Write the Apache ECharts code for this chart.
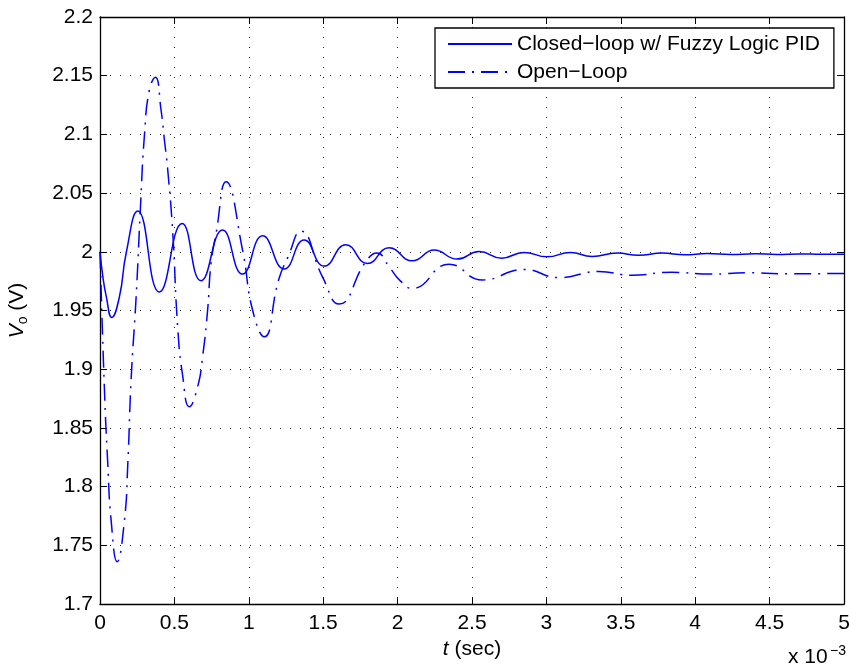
<!DOCTYPE html>
<html>
<head>
<meta charset="utf-8">
<script src="https://cdn.jsdelivr.net/npm/echarts@6/dist/echarts.min.js"></script>
<style>
html,body{margin:0;padding:0;background:#fff;}
#chart{width:849px;height:668px;}
</style>
</head>
<body>
<div id="chart"></div>
<script>
// time in units of 1e-3 s (axis shows "x 10^-3")
const tClosed = [0, 0.019, 0.042, 0.079, 0.131, 0.176, 0.254, 0.399, 0.552, 0.679, 0.824, 0.958, 1.093, 1.238, 1.372, 1.507, 1.652, 1.797, 1.943, 2.10, 2.245, 2.40, 2.547, 2.70, 2.849, 3.005, 3.162, 3.307, 3.475, 3.62, 3.777, 3.93, 4.08, 4.24, 4.40, 4.55, 4.70, 4.85, 5.0];
const vClosed = [2.000, 1.979, 1.962, 1.944, 1.962, 1.999, 2.0347, 1.9657, 2.0242, 1.9753, 2.0185, 1.981, 2.0136, 1.9853, 2.010, 1.9878, 2.006, 1.990, 2.0034, 1.9923, 2.0015, 1.9938, 2.0003, 1.9946, 1.9995, 1.9957, 1.9995, 1.996, 1.9989, 1.997, 1.9989, 1.9975, 1.9985, 1.9977, 1.9983, 1.9978, 1.9982, 1.9979, 1.998];

const tOpen = [0, 0.030, 0.052, 0.075, 0.115, 0.164, 0.187, 0.209, 0.243, 0.272, 0.299, 0.332, 0.3725, 0.41, 0.433, 0.455, 0.489, 0.522, 0.556, 0.60, 0.656, 0.69, 0.723, 0.746, 0.78, 0.847, 0.958, 1.026, 1.104, 1.20, 1.265, 1.35, 1.495, 1.607, 1.786, 1.86, 1.95, 2.02, 2.10, 2.346, 2.569, 2.849, 3.084, 3.352, 3.576, 3.84, 4.10, 4.35, 4.60, 5.0];
const vOpen = [2.000, 1.882, 1.820, 1.771, 1.736, 1.771, 1.820, 1.891, 1.962, 2.038, 2.100, 2.138, 2.1486, 2.121, 2.095, 2.070, 2.016, 1.936, 1.894, 1.868, 1.885, 1.911, 1.950, 1.990, 2.0157, 2.0596, 2.0015, 1.950, 1.9276, 1.976, 1.996, 2.0176, 1.9787, 1.9555, 1.9915, 1.999, 1.986, 1.975, 1.9688, 1.9895, 1.976, 1.985, 1.978, 1.9833, 1.980, 1.9825, 1.981, 1.9822, 1.9812, 1.9816];

const seriesNames = ['Closed\u2212loop w/ Fuzzy Logic PID', 'Open\u2212Loop'];
const xName = '{i|t} (sec)';
const yName = '{i|V}{s|o} (V)';
const xExponent = 'x 10';
const xExpSup = '\u22123';

const FONT = '"Liberation Sans", Arial, Helvetica, sans-serif';
const pairs = (t, v) => t.map((x, i) => [x, v[i]]);

const chart = echarts.init(document.getElementById('chart'), null, {renderer: 'canvas'});

const gridLine = {show: true, lineStyle: {color: '#000', width: 1, type: [1, 9], opacity: 0.85}};
const tick = {show: true, inside: true, length: 7, lineStyle: {color: '#000', width: 1}};
const axLine = {show: true, onZero: false, lineStyle: {color: '#000', width: 1.3}};

chart.setOption({
  animation: false,
  backgroundColor: '#fff',
  grid: {left: 100, right: 5, top: 17, bottom: 64, containLabel: false, outerBoundsMode: 'none'},
  xAxis: [{
    type: 'value', min: 0, max: 5, interval: 0.5, position: 'bottom',
    axisLine: axLine, axisTick: tick, splitLine: gridLine,
    axisLabel: {color: '#000', fontSize: 21, fontFamily: FONT, margin: 9},
    name: xName, nameLocation: 'middle', nameGap: 35,
    nameTextStyle: {color: '#000', fontSize: 21, fontFamily: FONT,
      rich: {i: {fontStyle: 'italic', fontSize: 21, fontFamily: FONT, color: '#000'}}}
  }, {
    type: 'value', min: 0, max: 5, interval: 0.5, position: 'top',
    axisLine: axLine, axisTick: tick, splitLine: {show: false}, axisLabel: {show: false}
  }],
  yAxis: [{
    type: 'value', min: 1.7, max: 2.2, interval: 0.05, position: 'left',
    axisLine: axLine, axisTick: tick, splitLine: gridLine,
    axisLabel: {color: '#000', fontSize: 21, fontFamily: FONT, margin: 7,
      formatter: v => String(+v.toFixed(2))},
    name: yName, nameLocation: 'middle', nameRotate: 90, nameGap: 70,
    nameTextStyle: {color: '#000', fontSize: 21, fontFamily: FONT,
      rich: {
        i: {fontStyle: 'italic', fontSize: 21, fontFamily: FONT, color: '#000', lineHeight: 26},
        s: {fontSize: 14, fontFamily: FONT, color: '#000', verticalAlign: 'bottom', lineHeight: 26, padding: [13, 0, 0, 0]}
      }}
  }, {
    type: 'value', min: 1.7, max: 2.2, interval: 0.05, position: 'right',
    axisLine: axLine, axisTick: tick, splitLine: {show: false}, axisLabel: {show: false}
  }],
  legend: {
    show: true, orient: 'vertical', left: 435, top: 28,
    backgroundColor: '#fff', borderColor: '#000', borderWidth: 1.3,
    padding: [5, 14, 5, 12], itemWidth: 64, itemHeight: 14, itemGap: 6,
    itemStyle: {opacity: 0},
    textStyle: {color: '#000', fontSize: 21, fontFamily: FONT, lineHeight: 22},
    data: seriesNames
  },
  series: [{
    name: seriesNames[0], type: 'line', xAxisIndex: 0, yAxisIndex: 0,
    data: pairs(tClosed, vClosed), smooth: 0.5, symbol: 'none', showSymbol: false,
    lineStyle: {color: '#0000ff', width: 1.5, type: 'solid'}, itemStyle: {color: '#0000ff'}
  }, {
    name: seriesNames[1], type: 'line', xAxisIndex: 0, yAxisIndex: 0,
    data: pairs(tOpen, vOpen), smooth: 0.5, symbol: 'none', showSymbol: false,
    lineStyle: {color: '#0000ff', width: 1.5, type: [17, 7, 2, 7]}, itemStyle: {color: '#0000ff'}
  }],
  graphic: [{
    type: 'text', x: 788, y: 657,
    style: {text: xExponent, fill: '#000', font: '21px ' + FONT, align: 'left', verticalAlign: 'middle', textAlign: 'left', textVerticalAlign: 'middle'}
  }, {
    type: 'text', x: 830, y: 651,
    style: {text: xExpSup, fill: '#000', font: '14px ' + FONT, align: 'left', verticalAlign: 'middle', textAlign: 'left', textVerticalAlign: 'middle'}
  }]
});
</script>
</body>
</html>
